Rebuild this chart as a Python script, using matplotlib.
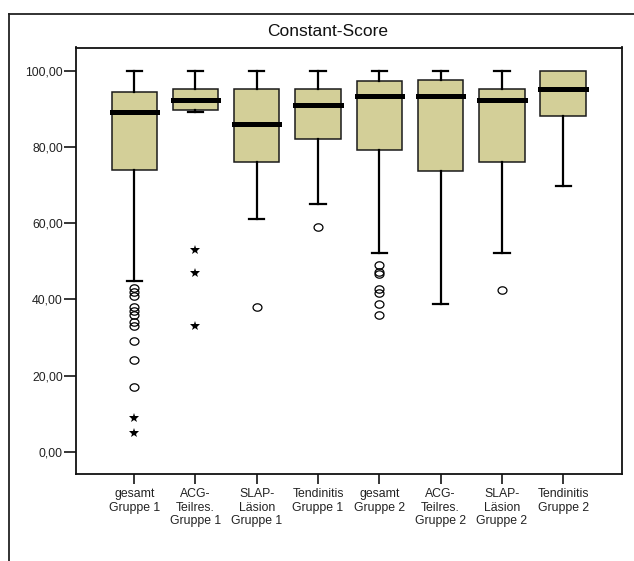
import matplotlib
matplotlib.use("Agg")
import matplotlib.pyplot as plt
import numpy as np
from matplotlib.path import Path
from matplotlib.lines import Line2D

plt.rcParams['font.family'] = ['Liberation Sans', 'DejaVu Sans']

# Constant-Score per group
categories = ["gesamt\nGruppe 1", "ACG-\nTeilres.\nGruppe 1", "SLAP-\nLäsion\nGruppe 1",
              "Tendinitis\nGruppe 1", "gesamt\nGruppe 2", "ACG-\nTeilres.\nGruppe 2",
              "SLAP-\nLäsion\nGruppe 2", "Tendinitis\nGruppe 2"]
q1 = [74.0, 89.7, 76.1, 82.2, 79.2, 73.7, 76.1, 88.1]
medians = [89.1, 92.2, 86.1, 91.1, 93.3, 93.3, 92.2, 95.2]
q3 = [94.5, 95.2, 95.2, 95.2, 97.3, 97.7, 95.2, 100.0]
whisker_low = [44.9, 89.2, 61.0, 65.1, 52.2, 38.8, 52.2, 69.8]
whisker_high = [100.0, 100.0, 100.0, 100.0, 100.0, 100.0, 100.0, 100.0]
outliers = [
    [43, 42, 41, 38, 37, 36, 34, 33, 29, 24, 17],
    [],
    [38],
    [59],
    [49, 47.2, 46.6, 42.8, 41.8, 38.8, 35.8],
    [],
    [42.6],
    [],
]
extremes = [
    [9, 5],
    [53, 47, 33],
    [], [], [], [], [], [],
]
yticks = [0, 20, 40, 60, 80, 100]
ytick_labels = ["0,00", "20,00", "40,00", "60,00", "80,00", "100,00"]

fig = plt.figure(figsize=(6.34, 5.61), dpi=100)
fig.patch.set_facecolor("white")

# outer chart frame, open at the bottom and right
fig.add_artist(Line2D([9 / 634, 9 / 634], [0, 1 - 14 / 561], transform=fig.transFigure,
                      color="#222222", lw=1.3))
fig.add_artist(Line2D([9 / 634, 1], [1 - 14 / 561, 1 - 14 / 561], transform=fig.transFigure,
                      color="#222222", lw=1.3))

ax = fig.add_axes([76 / 634, (561 - 474) / 561, (622 - 76) / 634, (474 - 47.5) / 561])

positions = np.arange(1, len(categories) + 1)
stats = []
for i in range(len(categories)):
    stats.append(dict(med=medians[i], q1=q1[i], q3=q3[i], whislo=whisker_low[i],
                      whishi=whisker_high[i], fliers=outliers[i]))

t = np.linspace(0, 2 * np.pi, 41)
ellipse = Path(np.column_stack([np.cos(t), 0.83 * np.sin(t)]), closed=True)

parts = ax.bxp(stats, positions=positions, widths=0.74, capwidths=0.25, patch_artist=True,
               boxprops=dict(facecolor="#D3CF98", edgecolor="#1a1a1a", linewidth=1.1),
               medianprops=dict(color="black", linewidth=3.6, solid_capstyle="projecting"),
               whiskerprops=dict(color="black", linewidth=1.6),
               capprops=dict(color="black", linewidth=1.6),
               flierprops=dict(marker=ellipse, markerfacecolor="none", markeredgecolor="black",
                               markeredgewidth=0.9, markersize=6.4, linestyle="none"))

# no whisker cap where the whisker coincides with the box edge
for i in range(len(categories)):
    if whisker_high[i] <= q3[i]:
        parts["caps"][2 * i + 1].set_visible(False)
        parts["whiskers"][2 * i + 1].set_visible(False)

for p, vals in zip(positions, extremes):
    if vals:
        ax.plot([p] * len(vals), vals, linestyle="none", marker="*", color="black",
                markersize=7.5, markeredgewidth=0)

ax.set_xlim(0.05, 8.96)
ax.set_ylim(-5.8, 106.1)
ax.set_yticks(yticks)
ax.set_yticklabels(ytick_labels)
ax.set_xticks(positions)
ax.set_xticklabels(categories, linespacing=1.2)
ax.tick_params(axis="y", direction="out", length=8.5, width=1.1, pad=1, labelsize=8.8,
               colors="black", labelcolor="#222222")
ax.tick_params(axis="x", direction="out", length=7, width=1.1, pad=3, labelsize=8.8,
               colors="black", labelcolor="#222222")
for sp in ax.spines.values():
    sp.set_linewidth(1.3)
    sp.set_color("#111111")

fig.text(328 / 634, 1 - 31 / 561, "Constant-Score", ha="center", va="center",
         fontsize=12.5, color="#111111")

fig.savefig("out.png", dpi=100)
